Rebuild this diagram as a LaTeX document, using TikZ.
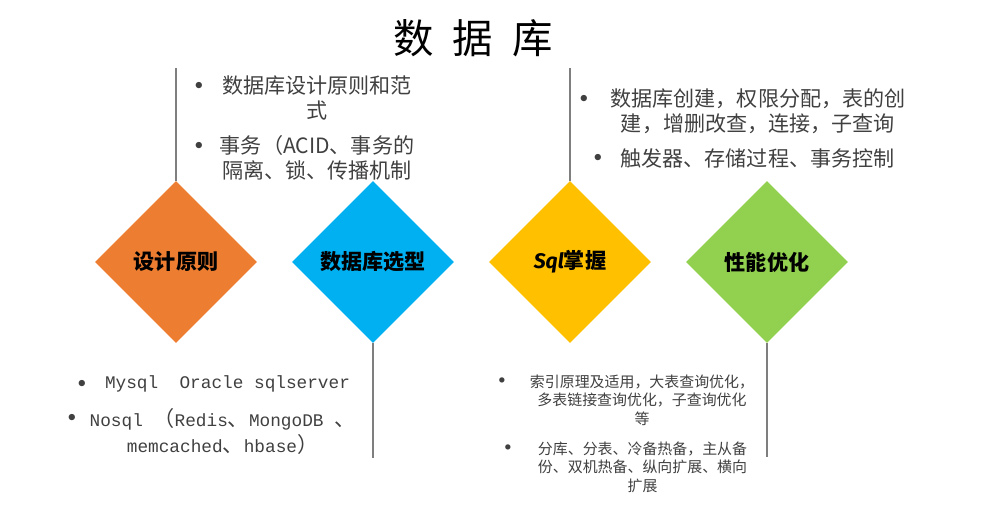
\documentclass[tikz,border=0pt]{standalone}
\usepackage{fontspec}
\setmainfont{Noto Sans CJK SC}
\newfontfamily\monofnt{Liberation Mono}
\newfontfamily\handfnt{Fira Sans}
\usetikzlibrary{shapes.geometric}
\definecolor{designorange}{HTML}{ED7D31}
\definecolor{selectblue}{HTML}{00B0F0}
\definecolor{sqlyellow}{HTML}{FFC000}
\definecolor{perfgreen}{HTML}{92D050}
\definecolor{stemgray}{HTML}{7F7F7F}
\definecolor{textgray}{HTML}{404040}
\begin{document}
\begin{tikzpicture}[line width=0.5pt,
  card/.style={diamond, aspect=1, minimum width=3.24cm, minimum height=3.24cm, inner sep=0pt, text=black, font=\fontsize{12}{14}\selectfont\bfseries},
  stem/.style={draw=stemgray, line width=0.6pt},
  point/.style={text=textgray, align=center, inner sep=0pt, font=\fontsize{12}{14}\selectfont},
  smallpoint/.style={text=textgray, align=center, inner sep=0pt, font=\fontsize{8.5}{10.5}\selectfont},
  dot/.style={text=textgray, inner sep=0pt, font=\small}]
  \useasboundingbox (0,0) rectangle (20,10.38);
  \node[font=\fontsize{23}{23}\selectfont] (title) at (9.46,9.62) {数\hspace{0.38cm}据\hspace{0.38cm}库};
  \node[card, fill=designorange] (design) at (3.52,5.14) {设计原则};
  \node[card, fill=selectblue] (select) at (7.46,5.14) {数据库选型};
  \node[card, fill=sqlyellow] (sql) at (11.40,5.14) {{\handfnt\itshape Sql}掌握};
  \node[card, fill=perfgreen] (perf) at (15.34,5.14) {性能优化};
  \coordinate (designend) at (3.52,9.02);
  \coordinate (sqlend) at (11.40,9.02);
  \coordinate (selectend) at (7.46,1.22);
  \coordinate (perfend) at (15.34,1.24);
  \draw[stem] (design.north) -- (designend);
  \draw[stem] (sql.north) -- (sqlend);
  \draw[stem] (select.south) -- (selectend);
  \draw[stem] (perf.south) -- (perfend);
  \node[point] (rule) at (6.34,8.42) {数据库设计原则和范\\式};
  \node[point] (trans) at (6.34,7.22) {事务（ACID、事务的\\隔离、锁、传播机制};
  \node[dot] (ruledot) at (3.98,8.66) {$\bullet$};
  \node[dot] (transdot) at (3.98,7.46) {$\bullet$};
  \node[point] (create) at (15.16,8.15) {数据库创建，权限分配，表的创\\建，增删改查，连接，子查询};
  \node[point] (proc) at (15.15,7.22) {触发器、存储过程、事务控制};
  \node[dot] (createdot) at (11.68,8.40) {$\bullet$};
  \node[dot] (procdot) at (11.96,7.22) {$\bullet$};
  \node[point] (rdb) at (4.55,2.70) {{\monofnt\fontsize{10.1}{14}\selectfont Mysql\ \ Oracle sqlserver}};
  \node[point, font=\fontsize{12}{14.8}\selectfont] (nosql) at (4.45,1.76)
    {{\monofnt\fontsize{10.1}{14.8}\selectfont Nosql }（{\monofnt\fontsize{10.1}{14.8}\selectfont Redis}、{\monofnt\fontsize{10.1}{14.8}\selectfont MongoDB }、\\{\monofnt\fontsize{10.1}{14.8}\selectfont memcached}、{\monofnt\fontsize{10.1}{14.8}\selectfont hbase}）};
  \node[dot] (rdbdot) at (1.64,2.70) {$\bullet$};
  \node[dot] (nosqldot) at (1.44,2.02) {$\bullet$};
  \node[smallpoint] (index) at (12.84,2.38) {索引原理及适用，大表查询优化，\\多表链接查询优化，子查询优化\\等};
  \node[smallpoint] (split) at (12.85,1.04) {分库、分表、冷备热备，主从备\\份、双机热备、纵向扩展、横向\\扩展};
  \node[dot, font=\scriptsize] (indexdot) at (10.04,2.76) {$\bullet$};
  \node[dot, font=\scriptsize] (splitdot) at (10.16,1.42) {$\bullet$};
\end{tikzpicture}
\end{document}
